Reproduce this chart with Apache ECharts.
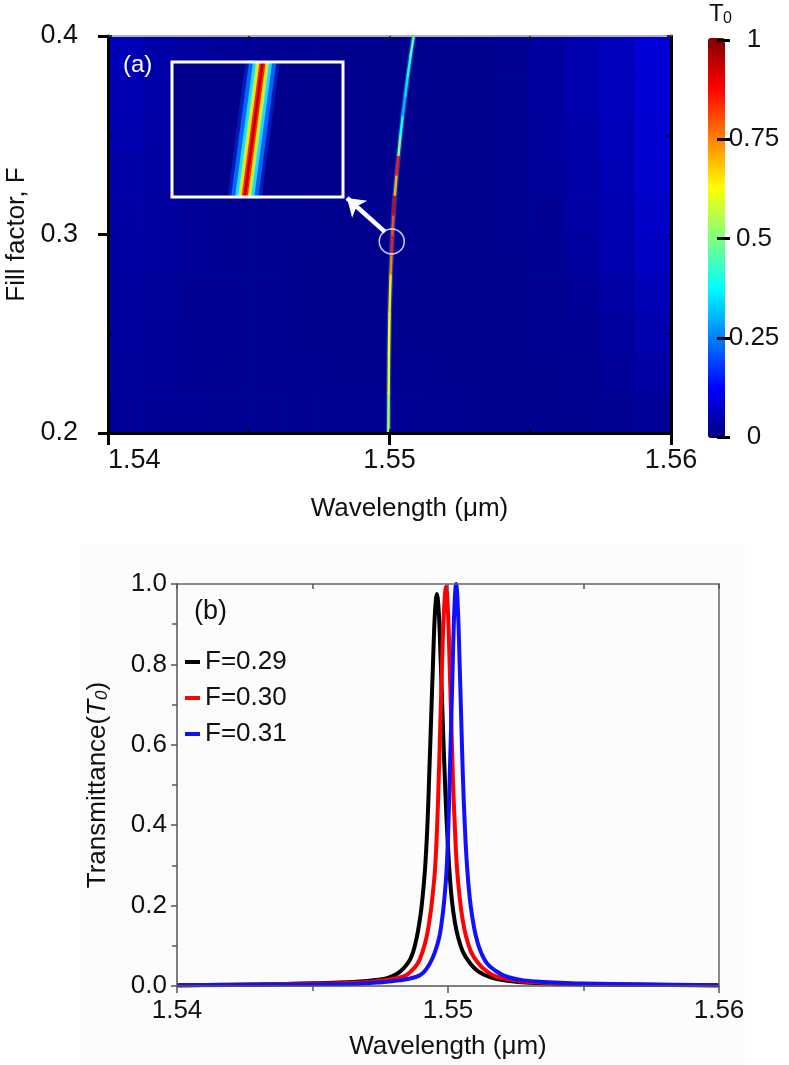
<!DOCTYPE html>
<html><head><meta charset="utf-8">
<script src="https://cdn.jsdelivr.net/npm/echarts/dist/echarts.min.js"></script>
<style>html,body{margin:0;padding:0;background:#fff}#c{width:789px;height:1065px}</style>
</head><body><div id="c"></div>
<script>
const FONT = 'Arial, "Liberation Sans", Helvetica, sans-serif';

// ---------- panel (a): background field (cell centres, rows from top F=0.39 down to F=0.21)
const heatLambda = [1.540625,1.541875,1.543125,1.544375,1.545625,1.546875,1.548125,1.549375,
                    1.550625,1.551875,1.553125,1.554375,1.555625,1.556875,1.558125,1.559375];
const heatFTopDown = [0.39,0.37,0.35,0.33,0.31,0.29,0.27,0.25,0.23,0.21];
const heatT = [
 [0.055,0.040,0.030,0.025,0.020,0.018,0.016,0.015,0.015,0.015,0.015,0.018,0.030,0.045,0.060,0.085],
 [0.050,0.040,0.030,0.022,0.020,0.017,0.016,0.015,0.015,0.015,0.015,0.018,0.030,0.045,0.060,0.085],
 [0.045,0.035,0.028,0.022,0.018,0.017,0.015,0.015,0.015,0.015,0.015,0.017,0.028,0.042,0.058,0.080],
 [0.040,0.032,0.026,0.020,0.018,0.016,0.015,0.015,0.015,0.015,0.015,0.017,0.026,0.040,0.055,0.078],
 [0.035,0.030,0.025,0.020,0.017,0.016,0.015,0.015,0.015,0.015,0.015,0.016,0.022,0.036,0.050,0.072],
 [0.032,0.028,0.024,0.020,0.017,0.015,0.015,0.015,0.015,0.015,0.015,0.015,0.020,0.030,0.045,0.065],
 [0.030,0.026,0.023,0.020,0.017,0.015,0.015,0.015,0.015,0.015,0.015,0.015,0.017,0.025,0.038,0.055],
 [0.028,0.025,0.022,0.020,0.017,0.015,0.015,0.015,0.015,0.015,0.015,0.015,0.016,0.020,0.030,0.045],
 [0.026,0.024,0.021,0.019,0.017,0.016,0.015,0.015,0.016,0.015,0.015,0.015,0.015,0.017,0.024,0.035],
 [0.025,0.023,0.020,0.019,0.018,0.017,0.016,0.017,0.020,0.017,0.015,0.015,0.015,0.015,0.018,0.025]
];
const cellW = 0.00125, cellH = 0.02;

// resonance ridge
const ridgeF      = [0.20,0.22,0.24,0.26,0.28,0.29,0.30,0.31,0.32,0.33,0.34,0.35,0.36,0.37,0.38,0.39,0.40];
const ridgeLambda = [1.54996,1.54997,1.54998,1.55000,1.55004,1.55007,1.55010,1.55014,1.55019,1.55025,
                     1.55032,1.55039,1.55047,1.55056,1.55065,1.55075,1.55086];
const ridgeT      = [0.55,0.60,0.62,0.65,0.75,0.85,0.80,0.90,0.70,0.85,0.50,0.40,0.30,0.35,0.40,0.45,0.80];

// zoomed inset (a)
const insetLambda = [1.550085, 1.550106];
const insetF      = [0.295, 0.305];
const circleAt  = [1.55008, 0.2965];
const arrowFrom = [1.54984, 0.3013];
const arrowTo   = [1.54849, 0.3184];

const cbTicks = [0, 0.25, 0.5, 0.75, 1];

// ---------- panel (b)
const wl29 = [1.540,1.543,1.545,1.5465,1.5475,1.54786,1.5482,1.54852,1.5487,1.54885,1.54895,1.54903,1.54915,1.54924,1.54931,1.54938,1.54945,1.54952,1.54959,
              1.54966,1.54973,1.5498,1.54987,1.54995,1.55004,1.55014,1.55025,1.55037,1.55055,1.55081,1.5511,1.55155,1.5522,1.553,1.555,1.560];
const t29  = [0.002,0.004,0.007,0.010,0.016,0.022,0.034,0.057,0.082,0.122,0.160,0.200,0.289,0.400,0.530,0.670,0.810,0.930,0.975,
              0.930,0.810,0.670,0.540,0.410,0.300,0.215,0.160,0.122,0.085,0.057,0.037,0.022,0.013,0.008,0.004,0.002];
const wl30 = [1.540,1.543,1.545,1.5465,1.5475,1.54834,1.5486,1.54889,1.54906,1.54921,1.54931,1.5494,1.54952,1.5496,1.54966,1.54972,1.54978,1.54985,1.54993,
              1.55000,1.55006,1.55012,1.55018,1.55025,1.55033,1.55044,1.55054,1.55066,1.55085,1.55111,1.5514,1.5518,1.5525,1.553,1.555,1.560];
const t30  = [0.002,0.004,0.006,0.008,0.013,0.023,0.034,0.057,0.085,0.122,0.160,0.206,0.289,0.400,0.520,0.660,0.800,0.930,0.993,
              0.930,0.800,0.660,0.520,0.400,0.295,0.215,0.165,0.125,0.085,0.057,0.038,0.023,0.014,0.010,0.005,0.002];
const wl31 = [1.540,1.543,1.545,1.5465,1.5475,1.5482,1.54884,1.5491,1.54934,1.54952,1.54968,1.54977,1.54985,1.54994,1.55001,1.55007,1.55012,1.55017,1.55023,1.5503,
              1.55037,1.55043,1.55049,1.55055,1.55062,1.5507,1.5508,1.5509,1.55101,1.55118,1.55143,1.55175,1.55217,1.5528,1.5535,1.555,1.560];
const t31  = [0.002,0.003,0.004,0.005,0.009,0.014,0.023,0.034,0.057,0.085,0.122,0.160,0.206,0.280,0.390,0.537,0.660,0.786,0.930,1.000,
              0.930,0.800,0.660,0.520,0.400,0.300,0.220,0.170,0.130,0.090,0.057,0.038,0.023,0.014,0.010,0.006,0.002];
const seriesNames = ['F=0.29','F=0.30','F=0.31'];

// ---------- build
const JET = ['#000080','#0000ff','#0080ff','#00ffff','#80ff80','#ffff00','#ff8000','#ff0000','#800000'];
const heatData = [];
heatT.forEach((row, r) => row.forEach((v, c) => heatData.push([heatLambda[c], heatFTopDown[r], v])));
const ridgeSegs = ridgeF.slice(0, -1).map((f, i) => [ridgeLambda[i], f, ridgeT[i], ridgeLambda[i+1], ridgeF[i+1]]);
const ridgePts = ridgeF.map((f, i) => [ridgeLambda[i], f]);
const insetPts = insetF.map((f, i) => [insetLambda[i], f]);
const zip = (a, b) => a.map((x, i) => [x, b[i]]);

const G1 = {left:108, top:36, width:563, height:397};
const INSET = {left:172, top:62, width:171, height:135};
const G4 = {left:177, top:584, width:542, height:402};

const noAx = {axisLine:{show:false}, axisTick:{show:false}, axisLabel:{show:false}, splitLine:{show:false}};
const lblA = {fontSize:26, color:'#111', fontFamily:FONT};

const insetLayers = [
  {w:34, c:'#0030e0', o:0.55}, {w:27, c:'#0070ff', o:0.9}, {w:19, c:'#20d8ff', o:1},
  {w:13, c:'#90ff70', o:1}, {w:10, c:'#ffe000', o:1}, {w:6, c:'#ff2000', o:1}, {w:2.5, c:'#b80000', o:1}
];

const series = [
  {type:'custom', xAxisIndex:1, yAxisIndex:1, data:heatData, z:1, silent:true, clip:true,
   encode:{x:0, y:1},
   renderItem:(params, api) => {
     const c = api.coord([api.value(0), api.value(1)]);
     const s = api.size([cellW, cellH]);
     const col = api.visual('color');
     return {type:'rect', shape:{x:c[0]-s[0]/2, y:c[1]-s[1]/2, width:s[0], height:s[1]},
             style:{fill:col, stroke:col, lineWidth:1}};
   }},
  {type:'line', xAxisIndex:1, yAxisIndex:1, data:ridgePts, symbol:'none', silent:true, z:2,
   lineStyle:{color:'#2a7fff', width:5, opacity:0.45}},
  {type:'custom', xAxisIndex:1, yAxisIndex:1, data:ridgeSegs, z:3, silent:true, clip:true,
   encode:{x:[0,3], y:[1,4]},
   renderItem:(params, api) => {
     const a = api.coord([api.value(0), api.value(1)]);
     const b = api.coord([api.value(3), api.value(4)]);
     return {type:'line', shape:{x1:a[0], y1:a[1], x2:b[0], y2:b[1]},
             style:{stroke:api.visual('color'), lineWidth:2.5, lineCap:'round'}};
   }},
  {type:'scatter', xAxisIndex:1, yAxisIndex:1, data:[circleAt], symbol:'circle', symbolSize:25, z:4, silent:true,
   itemStyle:{color:'rgba(0,0,0,0)', borderColor:'#fff', borderWidth:1.5}},
  {type:'lines', coordinateSystem:'cartesian2d', xAxisIndex:1, yAxisIndex:1, z:4, silent:true,
   symbol:['none','arrow'], symbolSize:17,
   lineStyle:{color:'#fff', width:4.5, opacity:1, curveness:0},
   data:[{coords:[arrowFrom, arrowTo]}]}
];
insetLayers.forEach(L => series.push({
  type:'line', xAxisIndex:4, yAxisIndex:4, data:insetPts, symbol:'none', silent:true, z:6, clip:true,
  lineStyle:{color:L.c, width:L.w, opacity:L.o}
}));
const cols = ['#000000','#ff0000','#1010ff'];
[[wl29,t29],[wl30,t30],[wl31,t31]].forEach((d, i) => series.push({
  type:'line', name:seriesNames[i], xAxisIndex:6, yAxisIndex:6, data:zip(d[0], d[1]),
  symbol:'none', smooth:0.4, z:5, color:cols[i],
  lineStyle:{color:cols[i], width:4, join:'round'}
}));

const gb = {outerBoundsMode:'none', containLabel:false};
const option = {
  animation:false,
  backgroundColor:'#fff',
  textStyle:{fontFamily:FONT},
  grid:[
    Object.assign({}, gb, G1),
    Object.assign({}, gb, G1),
    Object.assign({}, gb, {show:true, backgroundColor:'#00008c', borderWidth:0, z:5}, INSET),
    Object.assign({}, gb, {left:700, top:40, width:17, height:397}),
    Object.assign({}, gb, G4)
  ],
  xAxis:[
    Object.assign({gridIndex:0, type:'value', min:0, max:1}, noAx),
    {gridIndex:1, type:'value', min:1.54, max:1.56, interval:0.01, position:'bottom', z:10,
     axisLine:{onZero:false, lineStyle:{color:'#000', width:3}},
     axisTick:{length:12, lineStyle:{color:'#000', width:3}},
     axisLabel:Object.assign({margin:14, alignMinLabel:'left'}, lblA, {fontSize:27}),
     splitLine:{show:false},
     name:'Wavelength (μm)', nameLocation:'middle', nameGap:63,
     nameTextStyle:{fontSize:26, color:'#111', fontFamily:FONT, padding:[0,0,0,40]}},
    {gridIndex:1, type:'value', min:1.54, max:1.56, interval:0.005, position:'top', z:10,
     axisLine:{onZero:false, lineStyle:{color:'#b0b0b0', width:2}},
     axisTick:{inside:true, length:4, lineStyle:{color:'#000', width:1.5}},
     axisLabel:{show:false}, splitLine:{show:false}},
    {gridIndex:1, type:'value', min:1.54, max:1.56, interval:0.005, position:'bottom', z:10,
     axisLine:{show:false, onZero:false},
     axisTick:{inside:true, length:4, lineStyle:{color:'#000', width:1.5}},
     axisLabel:{show:false}, splitLine:{show:false}},
    Object.assign({gridIndex:2, type:'value', min:1.5500, max:1.5502}, noAx),
    Object.assign({gridIndex:3, type:'value', min:0, max:1}, noAx),
    {gridIndex:4, type:'value', min:1.54, max:1.56, interval:0.01, position:'bottom', z:10,
     axisLine:{onZero:false, lineStyle:{color:'#555', width:1.5}},
     axisTick:{length:7, lineStyle:{color:'#555', width:1.5}},
     minorTick:{show:true, splitNumber:2, length:5, lineStyle:{color:'#555', width:1.5}},
     axisLabel:Object.assign({margin:12}, lblA),
     splitLine:{show:false}, minorSplitLine:{show:false},
     name:'Wavelength (μm)', nameLocation:'middle', nameGap:48,
     nameTextStyle:{fontSize:26, color:'#111', fontFamily:FONT}},
    {gridIndex:4, type:'value', min:1.54, max:1.56, interval:0.005, position:'top', z:10,
     axisLine:{onZero:false, lineStyle:{color:'#666', width:1.5}},
     axisTick:{inside:true, length:5, lineStyle:{color:'#555', width:1.5}},
     axisLabel:{show:false}, splitLine:{show:false}}
  ],
  yAxis:[
    Object.assign({gridIndex:0, type:'value', min:0, max:1}, noAx),
    {gridIndex:1, type:'value', min:0.2, max:0.4, interval:0.1, position:'left', z:10,
     axisLine:{onZero:false, lineStyle:{color:'#000', width:3}},
     axisTick:{length:10, lineStyle:{color:'#000', width:3}},
     axisLabel:Object.assign({margin:30}, lblA, {fontSize:27}),
     splitLine:{show:false},
     name:'Fill factor, F', nameLocation:'middle', nameGap:57,
     nameTextStyle:{fontSize:26, color:'#111', fontFamily:FONT}},
    {gridIndex:1, type:'value', min:0.2, max:0.4, interval:0.05, position:'right', z:10,
     axisLine:{onZero:false, lineStyle:{color:'#000', width:3}},
     axisTick:{inside:true, length:4, lineStyle:{color:'#000', width:1.5}},
     axisLabel:{show:false}, splitLine:{show:false}},
    {gridIndex:1, type:'value', min:0.2, max:0.4, interval:0.05, position:'left', z:10,
     axisLine:{show:false, onZero:false},
     axisTick:{inside:true, length:4, lineStyle:{color:'#000', width:1.5}},
     axisLabel:{show:false}, splitLine:{show:false}},
    Object.assign({gridIndex:2, type:'value', min:0.295, max:0.305}, noAx),
    {gridIndex:3, type:'value', min:0, max:1, interval:0.25, position:'right', z:10,
     axisLine:{show:false, onZero:false},
     axisTick:{length:13, lineStyle:{color:'#000', width:3}},
     axisLabel:Object.assign({margin:37, align:'center', formatter:v => cbTicks.includes(v) ? String(v) : ''}, lblA),
     splitLine:{show:false}},
    {gridIndex:4, type:'value', min:0, max:1, interval:0.2, position:'left', z:10,
     axisLine:{onZero:false, lineStyle:{color:'#555', width:1.5}},
     axisTick:{length:6, lineStyle:{color:'#555', width:1.5}},
     minorTick:{show:true, splitNumber:2, length:5, lineStyle:{color:'#555', width:1.5}},
     axisLabel:Object.assign({margin:10, formatter:v => v.toFixed(1)}, lblA),
     splitLine:{show:false}, minorSplitLine:{show:false},
     name:'{n|Transmittance(}{i|T}{s|0}{n|)}', nameLocation:'middle', nameGap:66,
     nameTextStyle:{fontSize:26, color:'#111', fontFamily:FONT,
       rich:{n:{fontSize:26, color:'#111', fontFamily:FONT},
             i:{fontSize:26, color:'#111', fontFamily:FONT, fontStyle:'italic'},
             s:{fontSize:17, color:'#111', fontFamily:FONT, fontStyle:'italic', verticalAlign:'bottom', padding:[10,0,0,0]}}}},
    {gridIndex:4, type:'value', min:0, max:1, position:'right', z:10,
     axisLine:{onZero:false, lineStyle:{color:'#666', width:1.5}},
     axisTick:{show:false}, axisLabel:{show:false}, splitLine:{show:false}}
  ],
  visualMap:[{
    type:'continuous', min:0, max:1, dimension:2, seriesIndex:[0,2],
    orient:'vertical', left:708, top:38, itemWidth:17, itemHeight:400,
    calculable:false, hoverLink:false, padding:0, showLabel:false,
    inRange:{color:JET}
  }],
  legend:{
    data:seriesNames, orient:'vertical', left:185, top:649, padding:0,
    icon:'rect', itemWidth:15, itemHeight:4, itemGap:10, selectedMode:false,
    textStyle:{fontSize:26, color:'#111', fontFamily:FONT}
  },
  graphic:[
    {type:'rect', shape:{x:80, y:545, width:665, height:520}, style:{fill:'#fcfcfc'}, z:-10, silent:true},
    {type:'text', left:123, top:53, z:30, style:{text:'(a)', fill:'#fff', font:'24px ' + FONT}},
    {type:'text', left:194, top:598, z:30, style:{text:'(b)', fill:'#111', font:'27px ' + FONT}},
    {type:'text', left:709, top:2, z:30, style:{text:'T', fill:'#111', font:'24px ' + FONT}},
    {type:'text', left:723, top:11, z:30, style:{text:'0', fill:'#111', font:'16px ' + FONT}},
    {type:'rect', z:30, silent:true,
     shape:{x:INSET.left, y:INSET.top, width:INSET.width, height:INSET.height},
     style:{fill:'none', stroke:'#fff', lineWidth:3}}
  ],
  series:series
};

const chart = echarts.init(document.getElementById('c'), null, {renderer:'canvas'});
chart.setOption(option);
</script></body></html>
